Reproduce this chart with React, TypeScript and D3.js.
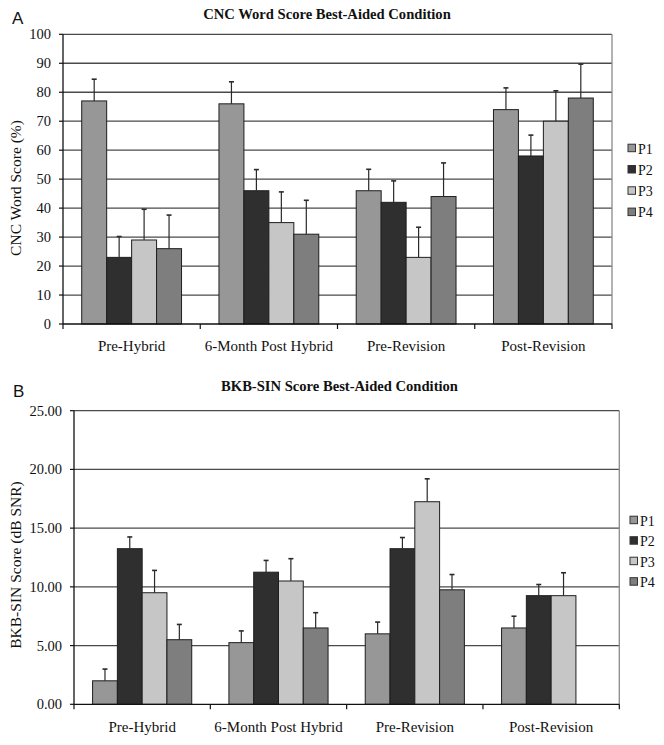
import React from "react";
import * as d3 from "d3";

const categories = ["Pre-Hybrid", "6-Month Post Hybrid", "Pre-Revision", "Post-Revision"];
const seriesNames = ["P1", "P2", "P3", "P4"];
const seriesColors = ["#979797", "#2f2f2f", "#c6c6c6", "#7e7e7e"];

// Panel A: CNC Word Score (%)
const cncP1 = [77, 76, 46, 74];
const cncP2 = [23, 46, 42, 58];
const cncP3 = [29, 35, 23, 70];
const cncP4 = [26, 31, 44, 78];
const cncErrP1 = [7.5, 7.6, 7.4, 7.5];
const cncErrP2 = [7.2, 7.3, 7.4, 7.2];
const cncErrP3 = [10.6, 10.6, 10.4, 10.5];
const cncErrP4 = [11.6, 11.7, 11.6, 11.7];
const cncTicks = [0, 10, 20, 30, 40, 50, 60, 70, 80, 90, 100];

// Panel B: BKB-SIN Score (dB SNR)
const bkbP1 = [2.0, 5.25, 6.0, 6.5];
const bkbP2 = [13.25, 11.25, 13.25, 9.25];
const bkbP3 = [9.5, 10.5, 17.25, 9.25];
const bkbP4: (number | null)[] = [5.5, 6.5, 9.75, null];
const bkbErrP1 = [1.0, 1.0, 1.0, 1.0];
const bkbErrP2 = [1.0, 1.0, 0.95, 0.95];
const bkbErrP3 = [1.9, 1.9, 1.95, 1.95];
const bkbErrP4: (number | null)[] = [1.3, 1.3, 1.3, null];
const bkbTicks = [0, 5, 10, 15, 20, 25];

type PanelProps = {
  letter: string;
  letterX: number;
  letterY: number;
  title: string;
  titleX: number;
  titleY: number;
  yLabel: string;
  yLabelX: number;
  yLabelY: number;
  left: number;
  right: number;
  top: number;
  bottom: number;
  yMax: number;
  ticks: number[];
  tickFmt: (v: number) => string;
  values: (number | null)[][];
  errors: (number | null)[][];
  xLabelY: number;
  legendX: number;
  legendY0: number;
  legendStep: number;
};

function Panel(p: PanelProps) {
  const x0 = d3.scaleBand<string>().domain(categories).range([p.left, p.right]).padding(0);
  const bw = x0.bandwidth();
  const barW = bw / (seriesNames.length + 1.5);
  const off = barW * 0.75;
  const x1 = d3
    .scaleBand<string>()
    .domain(seriesNames)
    .range([off, bw - off])
    .padding(0);
  const y = d3.scaleLinear().domain([0, p.yMax]).range([p.bottom, p.top]);
  const serif = "'Liberation Serif', 'Times New Roman', serif";

  return (
    <g>
      <text x={p.letterX} y={p.letterY} fontFamily="'Liberation Sans', Arial, sans-serif" fontSize={17} fill="#111">
        {p.letter}
      </text>
      <text x={p.titleX} y={p.titleY} textAnchor="middle" fontFamily={serif} fontWeight="bold" fontSize={14.6} fill="#111">
        {p.title}
      </text>
      {/* gridlines */}
      {p.ticks.slice(1).map((t) => (
        <line key={"g" + t} x1={p.left} x2={p.right} y1={y(t)} y2={y(t)} stroke="#4a4a4a" strokeWidth={1.3} />
      ))}
      {/* plot border right */}
      <line x1={p.right} x2={p.right} y1={p.top} y2={p.bottom} stroke="#8a8a8a" strokeWidth={1.3} />
      {/* bars */}
      {categories.map((c, ci) => (
        <g key={c}>
          {seriesNames.map((s, si) => {
            const v = p.values[si][ci];
            if (v == null) return null;
            const bx = (x0(c) as number) + (x1(s) as number);
            return (
              <rect
                key={s}
                x={bx}
                y={y(v)}
                width={x1.bandwidth()}
                height={y(0) - y(v)}
                fill={seriesColors[si]}
                stroke="#1e1e1e"
                strokeWidth={1}
              />
            );
          })}
          {seriesNames.map((s, si) => {
            const v = p.values[si][ci];
            const e = p.errors[si][ci];
            if (v == null || e == null) return null;
            const cx = (x0(c) as number) + (x1(s) as number) + x1.bandwidth() / 2;
            return (
              <g key={"e" + s} stroke="#2a2a2a" strokeWidth={1.2}>
                <line x1={cx} x2={cx} y1={y(v)} y2={y(v + e)} />
                <line x1={cx - 2.5} x2={cx + 2.5} y1={y(v + e)} y2={y(v + e)} strokeWidth={1.6} />
              </g>
            );
          })}
        </g>
      ))}
      {/* axes */}
      <line x1={p.left} x2={p.left} y1={p.top} y2={p.bottom} stroke="#111" strokeWidth={1.3} />
      <line x1={p.left} x2={p.right} y1={p.bottom} y2={p.bottom} stroke="#111" strokeWidth={1.3} />
      {p.ticks.map((t) => (
        <g key={"t" + t}>
          <line x1={p.left - 4} x2={p.left} y1={y(t)} y2={y(t)} stroke="#111" strokeWidth={1.2} />
          <text
            x={p.left - 12}
            y={y(t)}
            dy="0.35em"
            textAnchor="end"
            fontFamily={serif}
            fontSize={14.5}
            fill="#111"
          >
            {p.tickFmt(t)}
          </text>
        </g>
      ))}
      {[0, 1, 2, 3, 4].map((i) => {
        const xx = p.left + i * bw;
        return <line key={"xt" + i} x1={xx} x2={xx} y1={p.bottom} y2={p.bottom + 5} stroke="#111" strokeWidth={1.2} />;
      })}
      {categories.map((c) => (
        <text
          key={"xl" + c}
          x={(x0(c) as number) + bw / 2}
          y={p.xLabelY}
          textAnchor="middle"
          fontFamily={serif}
          fontSize={15}
          fill="#111"
        >
          {c}
        </text>
      ))}
      <text
        transform={`translate(${p.yLabelX},${p.yLabelY}) rotate(-90)`}
        textAnchor="middle"
        fontFamily={serif}
        fontSize={15.5}
        fill="#111"
      >
        {p.yLabel}
      </text>
      {/* legend */}
      {seriesNames.map((s, si) => {
        const cy = p.legendY0 + si * p.legendStep;
        return (
          <g key={"lg" + s}>
            <rect x={p.legendX} y={cy - 3.8} width={7.5} height={7.5} fill={seriesColors[si]} stroke="#333" strokeWidth={1} />
            <text x={p.legendX + 10} y={cy + 5.5} fontFamily={serif} fontSize={14} fill="#111">
              {s}
            </text>
          </g>
        );
      })}
    </g>
  );
}

export default function App() {
  const fmt0 = (v: number) => String(v);
  const fmt2 = (v: number) => v.toFixed(2);
  return (
    <svg
      width={664}
      height={745}
      style={{ position: "absolute", left: 0, top: 0, background: "#fff" }}
      xmlns="http://www.w3.org/2000/svg"
    >
      <rect x={0} y={0} width={664} height={745} fill="#fff" />
      <Panel
        letter="A"
        letterX={12}
        letterY={24}
        title="CNC Word Score Best-Aided Condition"
        titleX={327}
        titleY={19}
        yLabel="CNC Word Score (%)"
        yLabelX={21}
        yLabelY={188}
        left={63}
        right={612}
        top={34.3}
        bottom={324}
        yMax={100}
        ticks={cncTicks}
        tickFmt={fmt0}
        values={[cncP1, cncP2, cncP3, cncP4]}
        errors={[cncErrP1, cncErrP2, cncErrP3, cncErrP4]}
        xLabelY={351}
        legendX={628}
        legendY0={148}
        legendStep={21.3}
      />
      <Panel
        letter="B"
        letterX={13}
        letterY={397}
        title="BKB-SIN Score Best-Aided Condition"
        titleX={339.5}
        titleY={391}
        yLabel="BKB-SIN Score (dB SNR)"
        yLabelX={21}
        yLabelY={565}
        left={74}
        right={619.3}
        top={410.7}
        bottom={704.3}
        yMax={25}
        ticks={bkbTicks}
        tickFmt={fmt2}
        values={[bkbP1, bkbP2, bkbP3, bkbP4]}
        errors={[bkbErrP1, bkbErrP2, bkbErrP3, bkbErrP4]}
        xLabelY={732}
        legendX={630}
        legendY0={520}
        legendStep={20.5}
      />
    </svg>
  );
}
